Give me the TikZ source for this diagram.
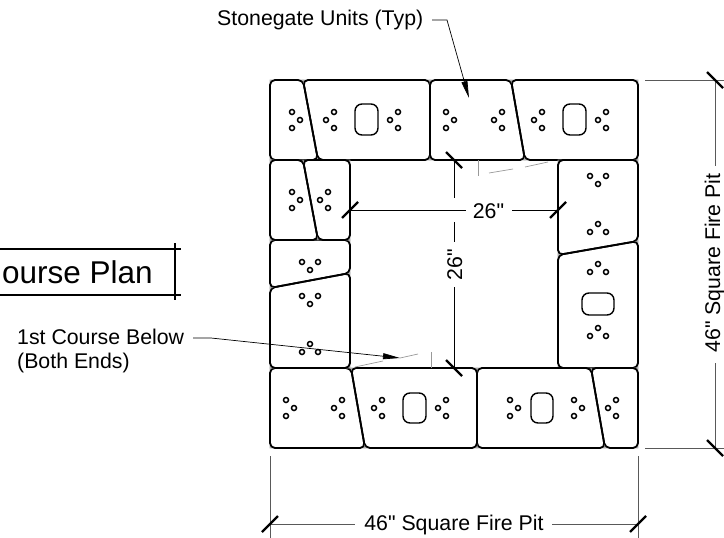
\documentclass[tikz,border=0pt]{standalone}
\usepackage{fontspec}
\setmainfont{Liberation Sans}[Ligatures=TeXOff]
\usetikzlibrary{arrows.meta}
\tikzset{
  unitline/.style={line width=1.8pt,rounded corners=5pt},
  unitedge/.style={line width=.7pt,black!35},
  corehole/.style={line width=1.4pt,rounded corners=7pt},
  pinhole/.style={line width=1.5pt},
  dimline/.style={line width=.8pt,black!65},
  innerdim/.style={line width=.8pt,black},
  dimtick/.style={line width=2.2pt,black},
  firstcourse/.style={line width=.7pt,black!40},
  leader/.style={line width=.7pt,-{Triangle[length=17pt,width=6pt]}},
  label/.style={inner sep=0pt,font=\fontsize{21.3}{23.5}\selectfont},
}
\newcommand{\stoneunit}[1]{\draw[unitedge] #1 -- cycle; \draw[unitline] #1 -- cycle;}
\begin{document}
\begin{tikzpicture}[x=1pt,y=-1pt]
\useasboundingbox (0,0) rectangle (724,538);
% units, clockwise from top left
\stoneunit{(270,80) -- (303,80) -- (318,160) -- (270,160)}
\stoneunit{(303,80) -- (430,80) -- (430,160) -- (318,160)}
\stoneunit{(430,80) -- (511,80) -- (525,160) -- (430,160)}
\stoneunit{(511,80) -- (638,80) -- (638,160) -- (525,160)}
\stoneunit{(558,160) -- (638,160) -- (638,241) -- (558,255)}
\stoneunit{(558,255) -- (638,241) -- (638,368) -- (558,368)}
\stoneunit{(591,368) -- (638,368) -- (638,448) -- (605,448)}
\stoneunit{(477,368) -- (591,368) -- (605,448) -- (477,448)}
\stoneunit{(351,368) -- (477,368) -- (477,448) -- (365,448)}
\stoneunit{(270,368) -- (351,368) -- (365,448) -- (270,448)}
\stoneunit{(270,288) -- (350,273) -- (350,368) -- (270,368)}
\stoneunit{(270,240) -- (350,240) -- (350,273) -- (270,288)}
\stoneunit{(303,160) -- (350,160) -- (350,240) -- (318,240)}
\stoneunit{(270,160) -- (303,160) -- (318,240) -- (270,240)}
% core holes
\foreach \xa/\ya/\xb/\yb in {355/104/378/135,563/104/586/135,403/393/426/423,531/393/553/423,582/293/614/315}
  \draw[corehole] (\xa,\ya) rectangle (\xb,\yb);
% pin holes: angle gives the side the middle one points to
\foreach \px/\py/\pa in {292/120/0,446/120/0,292/200/0,286/408/0,510/408/0,574/408/0,
    334/120/180,398/120/180,502/120/180,542/120/180,606/120/180,328/200/180,342/408/180,382/408/180,446/408/180,616/408/180,
    310/262/270,310/296/270,598/176/270,
    310/352/90,598/232/90,598/272/90,598/336/90}
  \foreach \pb in {90,0,-90}
    \draw[pinhole,shift={(\px,\py)},rotate=\pa] (\pb:8) circle (2.5pt);
% first course below
\draw[firstcourse] (478,160) -- (478,176);
\draw[firstcourse] (489,173) -- (513,169);
\draw[firstcourse] (525,167) -- (548,162);
\draw[firstcourse] (431,368) -- (431,352);
\draw[firstcourse] (355,367) -- (383,361);
\draw[firstcourse] (400,358) -- (418,354);
% title
\node[anchor=base east,inner sep=0pt,font=\fontsize{31.5}{34}\selectfont] (title) at (153,283) {ourse Plan};
\draw[line width=2pt] (0,249) -- (181,249);
\draw[line width=2pt] (0,295) -- (181,295);
\draw[line width=2pt] (175,243) -- (175,300);
% leaders
\node[label,anchor=base west] (typlabel) at (217,26) {Stonegate Units (Typ)};
\coordinate (typbend) at (447,20);
\coordinate (typtip) at (469,98);
\draw[leader] (432,20) -- (typbend) -- (typtip);
\node[label,anchor=west,align=left] (belowlabel) at (17,351) {1st Course Below\\(Both Ends)};
\coordinate (belowbend) at (211,338);
\coordinate (belowtip) at (400,358);
\draw[leader] (193,338) -- (belowbend) -- (belowtip);
% inner dimensions
\coordinate (innerw) at (350,210);
\coordinate (innere) at (558,210);
\coordinate (innern) at (454,160);
\coordinate (inners) at (454,368);
\node[label,anchor=base] (innerwidth) at (488.5,218) {26"};
\node[label,anchor=base,rotate=90] (innerdepth) at (462,265) {26"};
\draw[innerdim] (innerw) -- (466,210);
\draw[innerdim] (512,210) -- (innere);
\draw[innerdim] (innern) -- (454,198);
\draw[innerdim] (454,222) -- (454,242);
\draw[innerdim] (454,287) -- (inners);
\foreach \tx/\ty in {350/210,558/210}
  \draw[dimtick] (\tx-8,\ty+8) -- (\tx+8,\ty-8);
\foreach \tx/\ty in {454/160,454/368}
  \draw[dimtick] (\tx-8,\ty-8) -- (\tx+8,\ty+8);
% outer dimensions
\draw[dimline] (645,80) -- (724,80);
\draw[dimline] (645,448) -- (724,448);
\draw[dimline] (270,456) -- (270,538);
\draw[dimline] (638,456) -- (638,538);
\coordinate (outerw) at (270,524);
\coordinate (outere) at (638,524);
\coordinate (outern) at (715,80);
\coordinate (outers) at (715,448);
\node[label,anchor=base] (outerwidth) at (454,530) {46" Square Fire Pit};
\node[label,anchor=base,rotate=90] (outerdepth) at (720,263) {46" Square Fire Pit};
\draw[dimline] (outerw) -- (355,524);
\draw[dimline] (552,524) -- (outere);
\draw[dimline] (outern) -- (715,166);
\draw[dimline] (715,363) -- (outers);
\foreach \tx/\ty in {270/524,638/524}
  \draw[dimtick] (\tx-8,\ty+8) -- (\tx+8,\ty-8);
\foreach \tx/\ty in {715/80,715/448}
  \draw[dimtick] (\tx-8,\ty-8) -- (\tx+8,\ty+8);
\end{tikzpicture}
\end{document}
